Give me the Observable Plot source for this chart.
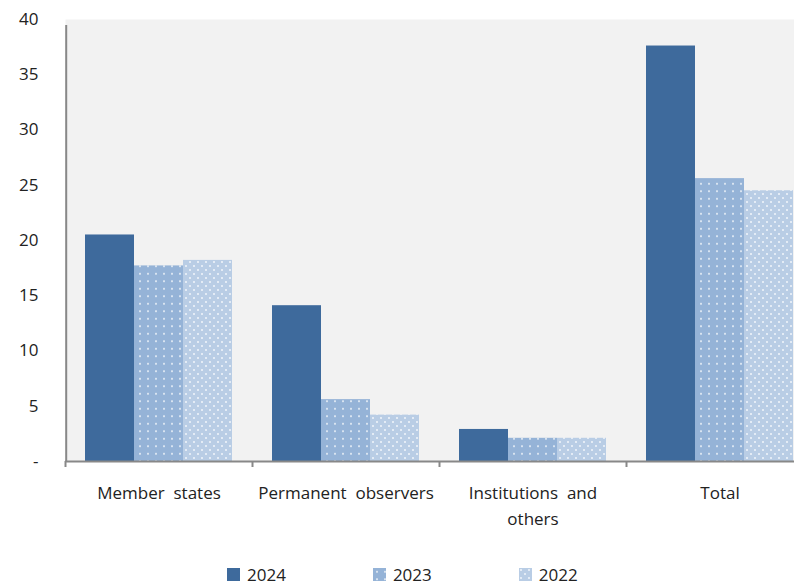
<!DOCTYPE html>
<html>
<head>
<meta charset="utf-8">
<script src="https://cdn.jsdelivr.net/npm/d3@7"></script>
<script src="https://cdn.jsdelivr.net/npm/@observablehq/plot@0.6"></script>
<style>
  html, body { margin: 0; padding: 0; background: #ffffff; overflow: hidden; width: 794px; height: 585px; }
  #chart { width: 794px; overflow: hidden; }
  svg text { white-space: pre; }
  #legend { display: flex; align-items: center; padding-left: 227px; margin-top: 12px;
            font-family: "Open Sans", "Noto Sans", sans-serif; font-size: 17px; color: #222; }
  .item { display: flex; align-items: center; margin-right: 87px; }
  .item svg { margin-right: 7px; }
</style>
</head>
<body>
<svg width="0" height="0" style="position:absolute">
  <defs>
    <pattern id="dots2023" patternUnits="userSpaceOnUse" width="8" height="7.5">
      <rect width="8" height="7.5" fill="#95b3d7"></rect>
      <circle cx="4" cy="3.7" r="1" fill="#ffffff" fill-opacity="0.85"></circle>
    </pattern>
    <pattern id="dots2022" patternUnits="userSpaceOnUse" width="8" height="8">
      <rect width="8" height="8" fill="#b9cde5"></rect>
      <circle cx="2" cy="2" r="1" fill="#ffffff" fill-opacity="0.8"></circle>
      <circle cx="6" cy="6" r="1" fill="#ffffff" fill-opacity="0.8"></circle>
    </pattern>
  </defs>
</svg>
<div id="chart"></div>
<div id="legend"></div>
<script>
const categories = ["Member  states", "Permanent  observers", "Institutions  and\nothers", "Total"];
const years = ["2024", "2023", "2022"];
const values2024 = [20.5, 14.1, 2.9, 37.6];
const values2023 = [17.7, 5.6, 2.1, 25.6];
const values2022 = [18.2, 4.2, 2.1, 24.5];
const yTicks = [0, 5, 10, 15, 20, 25, 30, 35, 40];
const yearFills = ["#3e6a9c", "url(#dots2023)", "url(#dots2022)"];

const series = [values2024, values2023, values2022];
const data = [];
categories.forEach((c, i) => {
  years.forEach((yr, j) => data.push({category: c, year: yr, value: series[j][i]}));
});

const font = '"Open Sans", "Noto Sans", sans-serif';
const axisGray = "#888888";
const chart = Plot.plot({
  width: 813,
  height: 551,
  marginLeft: 65,
  marginRight: 0,
  marginTop: 19,
  marginBottom: 90,
  style: {fontFamily: font, fontSize: "17px", color: "#222", background: "transparent", maxWidth: "none", overflow: "visible"},
  fx: {domain: categories, padding: 0, label: null},
  x: {domain: years, paddingInner: 0, paddingOuter: 0.38, axis: null},
  y: {domain: [0, 40], label: null},
  color: {domain: years, range: yearFills},
  marks: [
    Plot.frame({fill: "#f2f2f2", stroke: null, insetRight: -1}),
    Plot.barY(data, {fx: "category", x: "year", y: "value", fill: "year"}),
    Plot.ruleY([0], {stroke: axisGray, strokeWidth: 2}),
    Plot.ruleX([0], {fx: () => categories[0], x: () => years[0], y1: 0, y2: 40, dx: -43.8,
                     insetBottom: -6, stroke: axisGray, strokeWidth: 2}),
    Plot.axisY({ticks: yTicks, tickSize: 0, tickPadding: 27,
                tickFormat: d => d === 0 ? "-" : String(d), fill: "#222", fontSize: 17}),
    Plot.axisFx({anchor: "bottom", text: null, tickSize: 6, dx: -93.5, stroke: axisGray, strokeWidth: 2, label: null}),
    Plot.axisFx({anchor: "bottom", tickSize: 0, tickPadding: 18, lineHeight: 1.58, fill: "#222", fontSize: 17, label: null})
  ]
});
document.getElementById("chart").appendChild(chart);

const legend = document.getElementById("legend");
years.forEach((yr, j) => {
  const item = document.createElement("div");
  item.className = "item";
  item.innerHTML = `<svg width="13" height="13"><rect width="13" height="13" fill="${yearFills[j]}"></rect></svg><span>${yr}</span>`;
  legend.appendChild(item);
});
</script>
</body>
</html>
